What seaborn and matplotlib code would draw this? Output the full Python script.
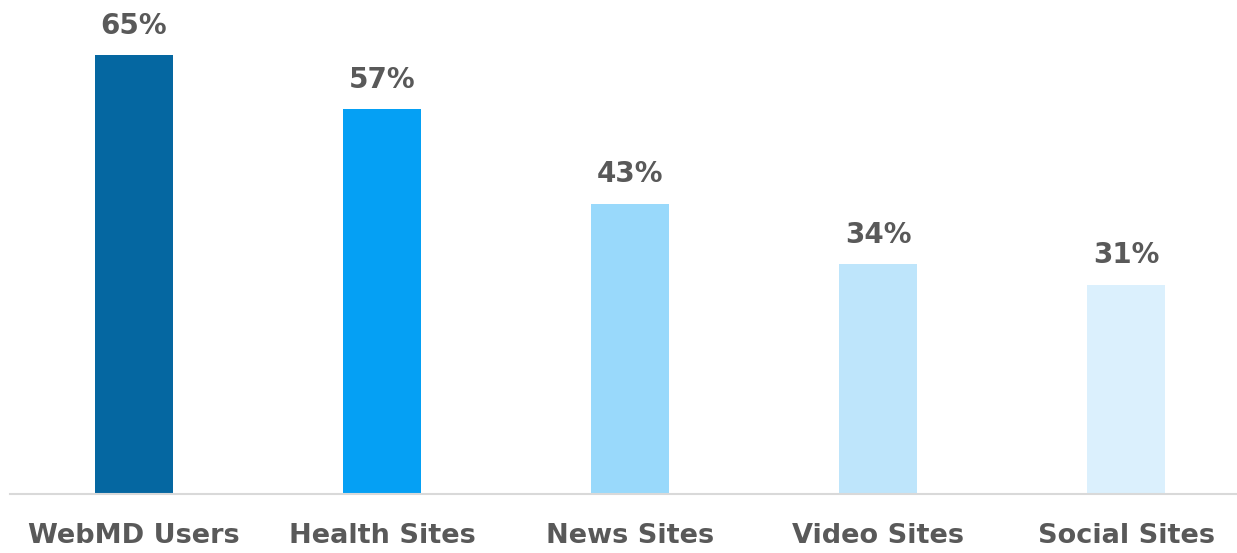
import matplotlib
matplotlib.use("Agg")
import matplotlib.pyplot as plt
import seaborn as sns
import pandas as pd

categories = ["WebMD Users", "Health Sites", "News Sites", "Video Sites", "Social Sites"]
values = [65, 57, 43, 34, 31]
colors = ["#0567A1", "#05A0F4", "#99D9FB", "#BEE5FB", "#DBF0FD"]

sns.set_theme(style="white")
plt.rcParams['font.family'] = ['DejaVu Sans']

df = pd.DataFrame({"cat": categories, "val": values})

fig = plt.figure(figsize=(12.37, 5.53), dpi=100)
ax = fig.add_axes([10/1237, 59/553, 1 - 10/1237, (494 - 21.2)/553])
sns.barplot(data=df, x="cat", y="val", hue="cat", palette=colors, legend=False,
            width=0.315, ax=ax, saturation=1, linewidth=0)

ax.set_ylim(0, 70)
ax.set_xlim(-0.5, 1227/248 - 0.5)
for i, v in enumerate(values):
    ax.annotate(f"{v}%", (i, v), xytext=(0, 11), textcoords="offset points",
                ha="center", va="bottom", fontsize=20, fontweight="bold", color="#595959")

ax.set_xlabel("")
ax.set_ylabel("")
ax.set_yticks([])
ax.tick_params(axis="x", length=0, pad=21, labelsize=19.5, labelcolor="#595959")
for lab in ax.get_xticklabels():
    lab.set_fontweight("bold")
for s in ["top", "right", "left"]:
    ax.spines[s].set_visible(False)
ax.spines["bottom"].set_color("#D9D9D9")
ax.spines["bottom"].set_linewidth(1.5)

fig.savefig("out.png", dpi=100)
